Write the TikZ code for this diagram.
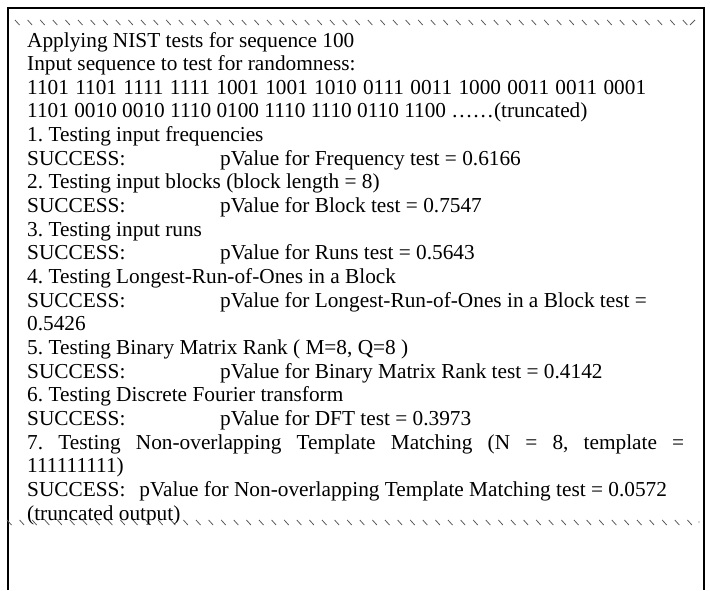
\documentclass[tikz,border=0pt]{standalone}
\usepackage{fontspec}
\setmainfont{Liberation Serif}
\frenchspacing
\newcommand{\esito}[1]{\makebox[193pt][l]{SUCCESS:}#1}
\tikzset{
	riga/.style={anchor=base west, inner sep=0pt, font=\fontsize{21.3}{24}\selectfont},
	taglio/.style={black!65, line width=0.8pt}
}

\begin{document}
\begin{tikzpicture}[x=1pt, y=-1pt]
	\useasboundingbox (0,0) rectangle (710,590);
	%Cornice
	\draw [line width=1.6pt] (8,590) -- (8,8) -- (704,8) -- (704,590);
	%Tagli
	\foreach \i in {0,...,53}
	{\draw [taglio] ({15+12.6*\i},20) -- ++(4.5,5);}
	\draw [taglio] (690,25) -- ++(5,-5);
	\foreach \i in {0,...,54}
	{\draw [taglio] ({7+12.6*\i},520) -- ++(4.5,5);}
	\fill [black!65] (699,522) circle (0.7);
	%Testo
	\node [riga] (titolo) at (27,47) {Applying NIST tests for sequence 100};
	\node [riga] (input) at (27,70.65) {Input sequence to test for randomness:};
	\node [riga] (bit1) at (27,94.3) {\makebox[619pt][s]{1101 1101 1111 1111 1001 1001 1010 0111 0011 1000 0011 0011 0001}};
	\node [riga] (bit2) at (27,117.95) {1101 0010 0010 1110 0100 1110 1110 0110 1100 ……(truncated)};
	\node [riga] (test1) at (27,141.6) {1. Testing input frequencies};
	\node [riga] (esito1) at (27,165.25) {\esito{pValue for Frequency test = 0.6166}};
	\node [riga] (test2) at (27,188.9) {2. Testing input blocks (block length = 8)};
	\node [riga] (esito2) at (27,212.55) {\esito{pValue for Block test = 0.7547}};
	\node [riga] (test3) at (27,236.2) {3. Testing input runs};
	\node [riga] (esito3) at (27,259.85) {\esito{pValue for Runs test = 0.5643}};
	\node [riga] (test4) at (27,283.5) {4. Testing Longest-Run-of-Ones in a Block};
	\node [riga] (esito4) at (27,307.15) {\esito{pValue for Longest-Run-of-Ones in a Block test =}};
	\node [riga] (valore4) at (27,330.8) {0.5426};
	\node [riga] (test5) at (27,354.45) {5. Testing Binary Matrix Rank ( M=8, Q=8 )};
	\node [riga] (esito5) at (27,378.1) {\esito{pValue for Binary Matrix Rank test = 0.4142}};
	\node [riga] (test6) at (27,401.75) {6. Testing Discrete Fourier transform};
	\node [riga] (esito6) at (27,425.4) {\esito{pValue for DFT test = 0.3973}};
	\node [riga] (test7) at (27,449.05) {\makebox[657pt][s]{7. Testing Non-overlapping Template Matching (N = 8, template =}};
	\node [riga] (modello7) at (27,472.7) {111111111)};
	\node [riga] (esito7) at (27,496.35) {SUCCESS:\hspace{14pt}pValue for Non-overlapping Template Matching test = 0.0572};
	\node [riga] (coda) at (27,520) {(truncated output)};
\end{tikzpicture}
\end{document}
